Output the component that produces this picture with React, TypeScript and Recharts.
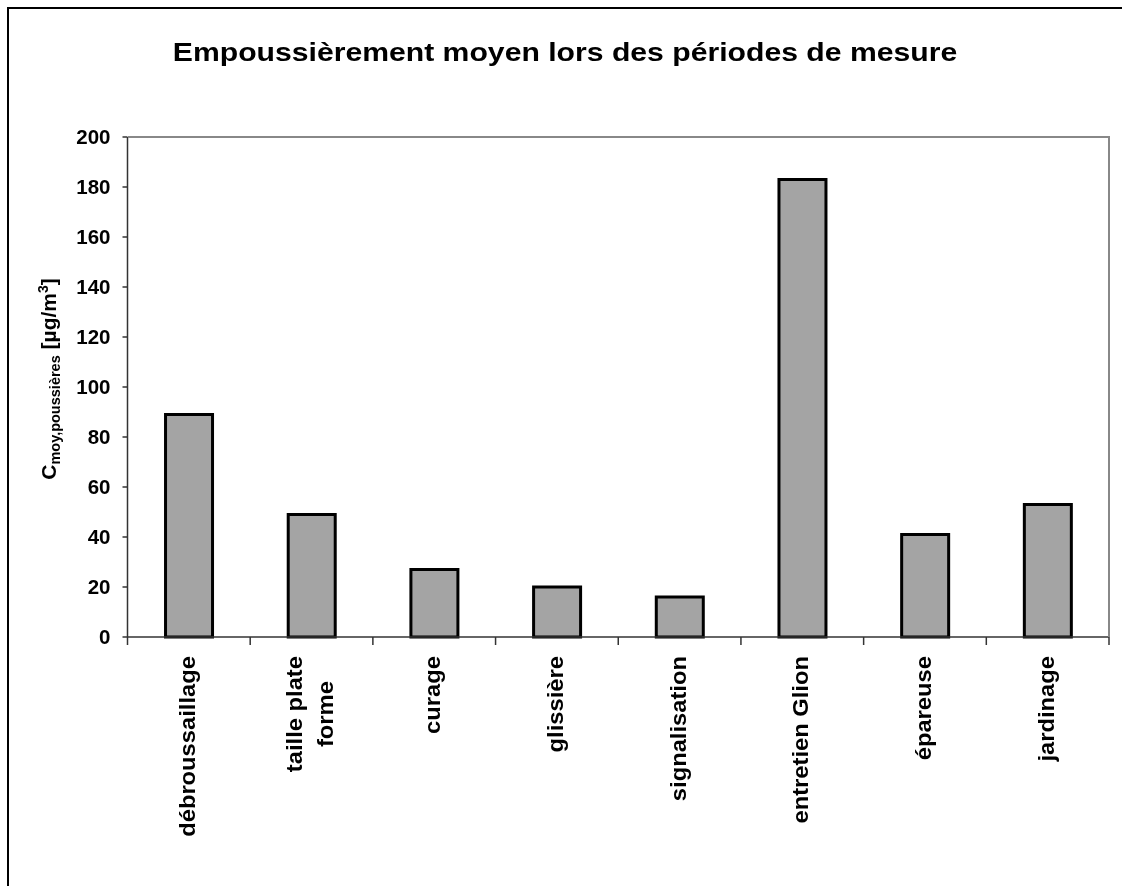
import React from 'react';
import { BarChart, Bar, XAxis, YAxis, Label } from 'recharts';

const categories = [
  'débroussaillage',
  'taille plate forme',
  'curage',
  'glissière',
  'signalisation',
  'entretien Glion',
  'épareuse',
  'jardinage',
];
const concentrations = [89, 49, 27, 20, 16, 183, 41, 53];
const yTicks = [0, 20, 40, 60, 80, 100, 120, 140, 160, 180, 200];

const data = categories.map((name, i) => ({ name, value: concentrations[i] }));

const FONT = '"Liberation Sans", Arial, sans-serif';
const W = 1113;
const H = 877;
const M = { top: 128, right: 13, left: 48.5, bottom: 29 };
const Y_AXIS_W = 70;
const X_AXIS_H = 220;
const PLOT_L = M.left + Y_AXIS_W;
const PLOT_R = W - M.right;
const PLOT_B = H - M.bottom - X_AXIS_H;
const HALF_BAND = (PLOT_R - PLOT_L) / categories.length / 2;
const TICK_FS = 22;

// greedy wrap, Excel breaks "taille plate forme" into two lines
function wrap(text: string, max = 15) {
  const out: string[] = [];
  let cur = '';
  text.split(' ').forEach((w) => {
    const next = cur ? cur + ' ' + w : w;
    if (next.length > max && cur) {
      out.push(cur);
      cur = w;
    } else cur = next;
  });
  if (cur) out.push(cur);
  return out;
}

let ctx: CanvasRenderingContext2D | null = null;
function textWidth(s: string) {
  if (!ctx) ctx = document.createElement('canvas').getContext('2d');
  if (!ctx) return s.length * TICK_FS * 0.55;
  ctx.font = `bold ${TICK_FS}px ${FONT}`;
  return ctx.measureText(s).width;
}

function CategoryTick(props: any) {
  const { x, y, payload, index } = props;
  const lines = wrap(String(payload.value));
  const maxW = Math.max(...lines.map(textWidth));
  return (
    <g>
      <line x1={x - HALF_BAND} x2={x - HALF_BAND} y1={y} y2={y + 8} stroke="#333" strokeWidth={1.5} />
      {index === categories.length - 1 && (
        <line x1={x + HALF_BAND} x2={x + HALF_BAND} y1={y - 1} y2={y + 8} stroke="#333" strokeWidth={1.5} />
      )}
      <text
        transform={`translate(${x},${y + 19}) rotate(-90) scale(1.08,1)`}
        textAnchor="middle"
        fontSize={TICK_FS}
        fontWeight="bold"
        fontFamily={FONT}
        fill="#000"
      >
        {lines.map((l, i) => (
          <tspan key={i} x={-maxW / 2} y={(i - (lines.length - 1) / 2) * 31 + 6}>
            {l}
          </tspan>
        ))}
      </text>
    </g>
  );
}

function YTitle() {
  const cx = 47;
  const cy = (M.top + PLOT_B) / 2 - 8;
  return (
    <text
      transform={`translate(${cx},${cy}) rotate(-90)`}
      textAnchor="middle"
      fontFamily={FONT}
      fontWeight="bold"
      fontSize={21}
      fill="#000"
    >
      C
      <tspan fontSize={14.5} dy={4}>moy,poussières</tspan>
      <tspan dy={-4}> [µg/m</tspan>
      <tspan fontSize={14} dy={-8}>3</tspan>
      <tspan dy={8}>]</tspan>
    </text>
  );
}

export default function App() {
  return (
    <div
      style={{
        position: 'fixed',
        left: 7,
        top: 7,
        width: W + 2,
        height: H + 2,
        borderTop: '2px solid #000',
        borderLeft: '2px solid #000',
        background: '#fff',
        boxSizing: 'border-box',
      }}
    >
      <div
        style={{
          position: 'absolute',
          left: 0,
          top: 28,
          width: 1112,
          textAlign: 'center',
          fontFamily: FONT,
          fontWeight: 'bold',
          fontSize: 26,
          lineHeight: '30px',
          transform: 'scaleX(1.16)',
          whiteSpace: 'nowrap',
        }}
      >
        Empoussièrement moyen lors des périodes de mesure
      </div>
      <BarChart width={W} height={H} data={data} margin={M} barCategoryGap="31%">
        <XAxis
          dataKey="name"
          height={X_AXIS_H}
          interval={0}
          tickLine={false}
          tickSize={0}
          tickMargin={0}
          axisLine={{ stroke: '#333', strokeWidth: 1.5 }}
          tick={<CategoryTick />}
        />
        <YAxis
          domain={[0, 200]}
          ticks={yTicks}
          width={Y_AXIS_W}
          tickSize={5}
          tickMargin={12}
          axisLine={{ stroke: '#333', strokeWidth: 1.5 }}
          tickLine={{ stroke: '#333', strokeWidth: 1.5 }}
          tick={{ fill: '#000', fontSize: 20.5, fontWeight: 'bold', fontFamily: FONT }}
        >
          <Label content={() => <YTitle />} />
        </YAxis>
        <Bar
          dataKey="value"
          fill="#a4a4a4"
          stroke="#000"
          strokeWidth={3}
          isAnimationActive={false}
        />
      </BarChart>
      <div
        style={{
          position: 'absolute',
          left: PLOT_L,
          top: M.top - 1,
          width: PLOT_R + 1 - PLOT_L,
          height: PLOT_B - M.top + 1,
          borderTop: '2px solid #888',
          borderRight: '2px solid #888',
          boxSizing: 'border-box',
          pointerEvents: 'none',
        }}
      />
    </div>
  );
}
